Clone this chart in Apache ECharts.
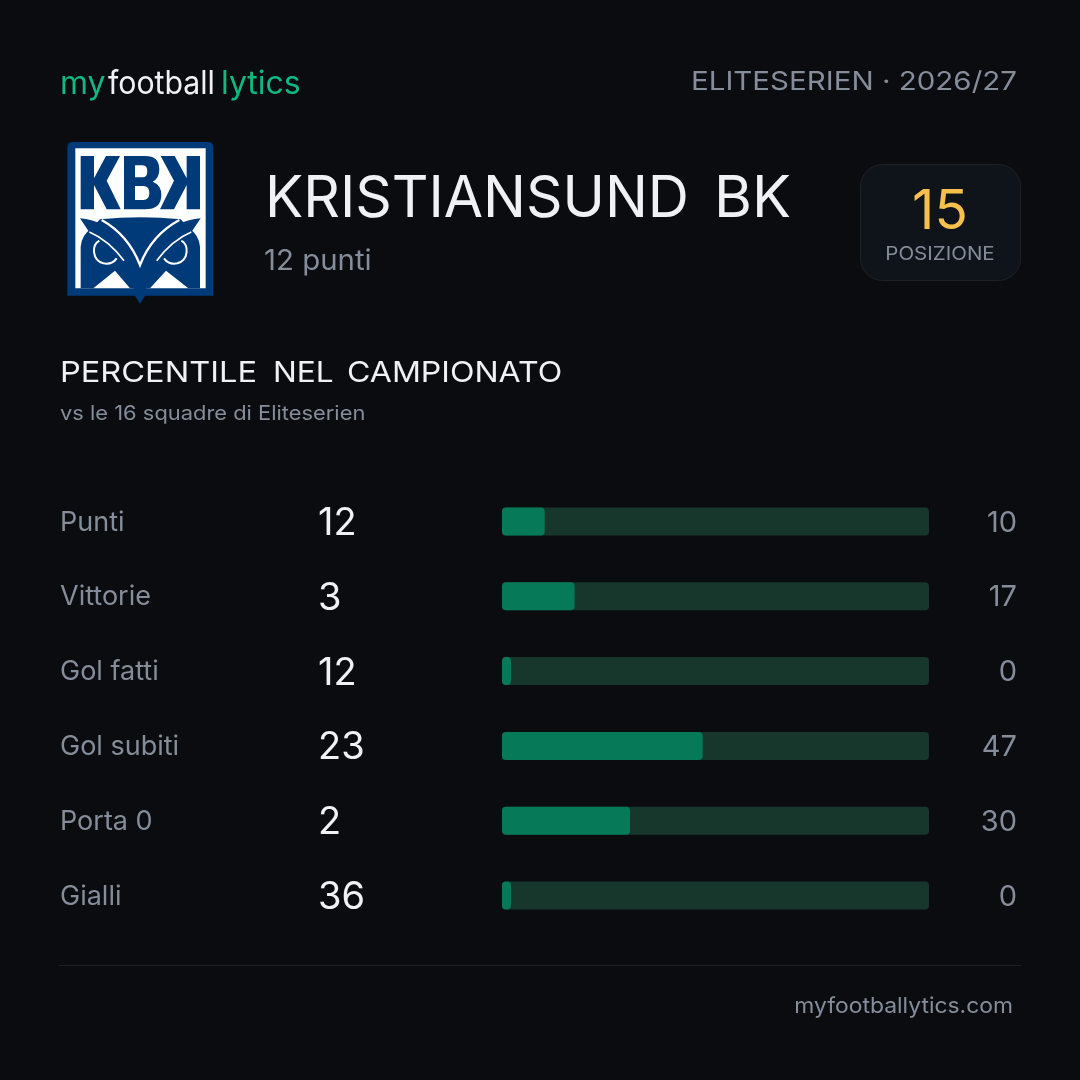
<!DOCTYPE html>
<html><head><meta charset="utf-8">
<style>html,body{margin:0;padding:0;background:#0a0c10}#c{width:1080px;height:1080px}</style>
<script src="https://cdn.jsdelivr.net/npm/echarts@6/dist/echarts.min.js"></script>
</head><body><div id="c"></div>
<script>
const categories = ['Punti','Vittorie','Gol fatti','Gol subiti','Porta 0','Gialli'];
const rawValues = [12,3,12,23,2,36];
const percentiles = [10,17,0,47,30,0];
const trackValues = [100,100,100,100,100,100];
const F = 'Inter';
const GREY='#858d9a', LIGHT='#f0f1f4', GREEN='#10b77f';
const chart = echarts.init(document.getElementById('c'), null, {renderer:'canvas'});
const txt = (x,y,t,size,color,opt={}) => ({type:'text',x,y,scaleX:opt.sx||1,style:{text:t,font:`${opt.w||400} ${size}px ${F}`,fill:color,textAlign:opt.a||'left',textVerticalAlign:'middle'}});
const blue='#003a78', white='#ffffff';
let shapeId=0;
const p = (d,fill,stroke,lw) => {
  const name='logoShape'+(shapeId++);
  echarts.graphic.registerShape(name, echarts.graphic.extendPath(d,{}));
  return {type:name,style:{fill:fill||'none',stroke:stroke||'none',lineWidth:lw||0}};
};
const logo = {type:'group',x:50,y:130,scaleX:1/3,scaleY:1/3,children:[
  p('M68 36H474Q490 36 490 52V497H285L270 522L255 497H52V52Q52 36 68 36Z',blue),
  p('M76 55H467V475H76Z',white),
  p('M92 78H132V145L168 78H210L170 152L212 238H170L132 165V238H92Z',blue),
  p('M450 78H410V145L374 78H332L372 152L330 238H372L410 165V238H450Z',blue),
  p('M222 78H285Q328 78 328 118Q328 145 308 155Q334 165 334 195Q334 238 285 238H222ZM255 106V142H278Q292 142 292 124Q292 106 278 106ZM255 168V210H280Q298 210 298 189Q298 168 280 168Z',blue),
  p('M92 350Q95 315 125 295L150 268Q270 255 392 268L417 295Q447 315 450 350V475H415L348 422L300 475H240L195 422L130 475H92Z',blue),
  p('M90 265Q160 270 215 330Q260 380 270 420Q280 380 325 330Q380 270 452 265L425 305Q360 325 320 390L290 475L270 500L250 475L222 390Q180 325 117 305Z',blue),
  p('M155 270Q235 315 270 405Q305 315 388 270',null,white,7),
  p('M118 306Q175 330 222 392',null,white,5),
  p('M424 306Q367 330 320 392',null,white,5),
  p('M148 332C125 345 125 390 160 400C185 405 195 392 200 385',null,white,6),
  p('M394 332C417 345 417 390 382 400C357 405 347 392 342 385',null,white,6)
]};
chart.setOption({
  backgroundColor:'#0a0c10',
  animation:false,
  grid:{left:502,right:151,top:484,height:449,containLabel:false},
  xAxis:{type:'value',min:0,max:100,show:false},
  yAxis:[
    {type:'category',inverse:true,data:categories,position:'left',axisLine:{show:false},axisTick:{show:false},
     axisLabel:{align:'left',margin:442,padding:[4,0,0,0],
       formatter:(v,i)=>`{n|${v}}{v|${rawValues[i]}}`,
       rich:{n:{fontFamily:F,fontWeight:400,fontSize:27,color:GREY,width:258,padding:[0,0,2,0]},
             v:{fontFamily:F,fontWeight:400,fontSize:38,color:LIGHT}}}},
    {type:'category',inverse:true,data:percentiles,position:'right',axisLine:{show:false},axisTick:{show:false},
     axisLabel:{align:'right',margin:88,padding:[3,0,0,0],
       formatter:v=>`{p|${v}}`,
       rich:{p:{color:GREY,fontFamily:F,fontWeight:400,fontSize:29}}}}
  ],
  series:[
    {type:'bar',data:trackValues,barWidth:28,barGap:'-100%',silent:true,itemStyle:{color:'#17362c',borderRadius:4}},
    {type:'bar',data:percentiles,barWidth:28,barMinHeight:9,silent:true,itemStyle:{color:'#067a58',borderRadius:4}}
  ],
  graphic:[
    txt(60,84,'my',32,GREEN), txt(108,84,'football',32,LIGHT,{sx:0.945}), txt(221,84,'lytics',32,GREEN),
    txt(1017,82,'ELITESERIEN · 2026/27',26,GREY,{a:'right',sx:1.135}),
    logo,
    txt(265,200,'KRISTIANSUND',58,LIGHT,{sx:0.982}), txt(714,200,'BK',58,LIGHT),
    txt(264,262,'12 punti',28,GREY,{sx:1.05}),
    {type:'rect',shape:{x:860.5,y:164.5,width:160,height:116,r:22},style:{fill:'#0f131a',stroke:'#1d2128',lineWidth:1}},
    txt(940,212,'15',55,'#f6c04d',{a:'center'}),
    txt(940,254,'POSIZIONE',19,GREY,{a:'center',sx:1.08}),
    txt(60,373,'PERCENTILE',29,LIGHT,{sx:1.123}), txt(273,373,'NEL',29,LIGHT,{sx:1.09}), txt(347,373,'CAMPIONATO',29,LIGHT,{sx:1.105}),
    txt(60,414,'vs le 16 squadre di Eliteserien',20,GREY,{sx:1.094}),
    {type:'line',shape:{x1:59,y1:965.5,x2:1021,y2:965.5},style:{stroke:'#1d2025',lineWidth:1}},
    txt(1013,1006,'myfootballytics.com',22,GREY,{a:'right',sx:1.04})
  ]
});
</script></body></html>
